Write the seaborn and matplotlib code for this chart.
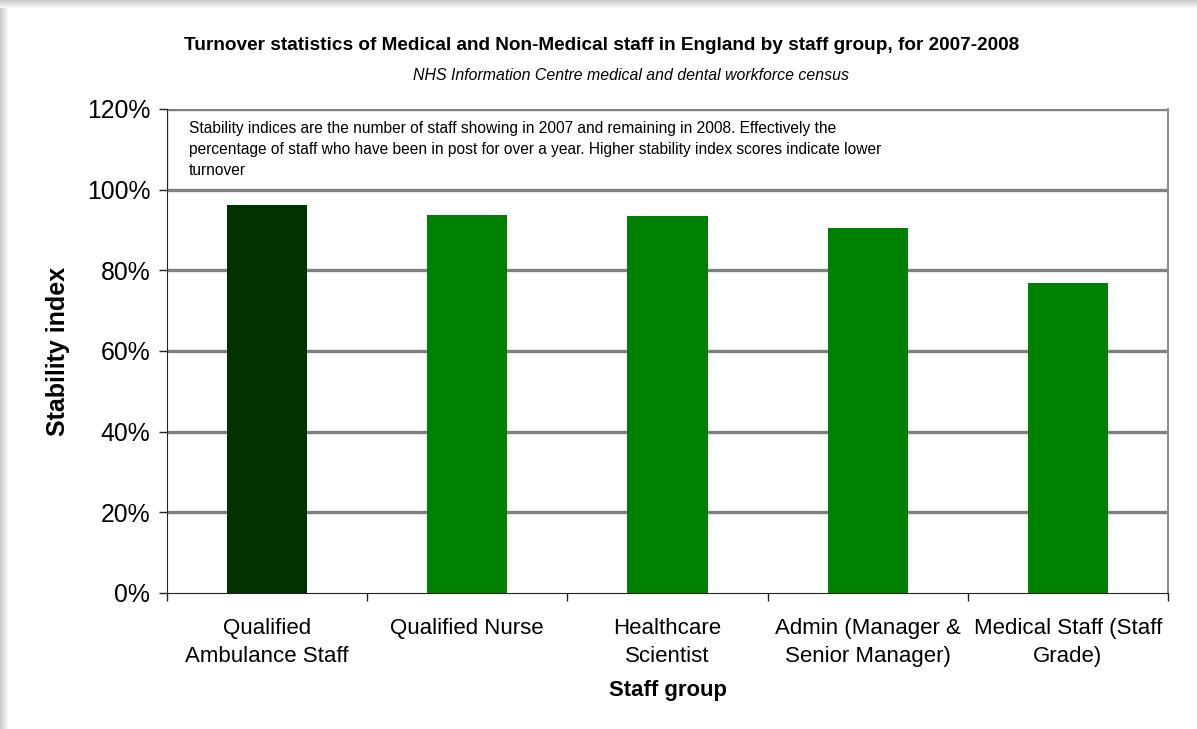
import numpy as np
import pandas as pd
import matplotlib.pyplot as plt
import matplotlib.patches as mpatches
import seaborn as sns

# ============================================
# DATA
# ============================================
groups = ["Qualified\nAmbulance Staff", "Qualified Nurse", "Healthcare\nScientist",
          "Admin (Manager &\nSenior Manager)", "Medical Staff (Staff\nGrade)"]
stability = [96.2, 93.7, 93.5, 90.6, 76.9]
bar_colors = ["#003300", "#008000", "#008000", "#008000", "#008000"]
y_ticks = [0, 20, 40, 60, 80, 100, 120]

df = pd.DataFrame({"group": groups, "stability": stability})

sns.set_style("white")
plt.rcParams["font.family"] = ["Liberation Sans", "DejaVu Sans"]
plt.rcParams["text.color"] = "black"
plt.rcParams["axes.labelcolor"] = "black"
plt.rcParams["xtick.color"] = "black"
plt.rcParams["ytick.color"] = "black"

fig = plt.figure(figsize=(11.97, 7.29), dpi=100)
ax = fig.add_axes([0.1395, 0.1866, 0.8363, 0.6639])

# shadow on top / left edge of the chart frame
for i in range(8):
    g = 0.80 + i * 0.025
    fig.patches.append(mpatches.Rectangle((0, 1 - (i + 1) / 729), 1, 1 / 729, transform=fig.transFigure,
                                          facecolor=(g, g, g), edgecolor="none", zorder=0))
    fig.patches.append(mpatches.Rectangle((i / 1197, 0), 1 / 1197, 1 - 8 / 729, transform=fig.transFigure,
                                          facecolor=(g, g, g), edgecolor="none", zorder=0))

sns.barplot(data=df, x="group", y="stability", hue="group", palette=bar_colors,
            legend=False, width=0.4, saturation=1, linewidth=0, ax=ax, zorder=3)

ax.set_ylim(0, 120)
ax.set_xlim(-0.5, 4.5)
ax.set_yticks(y_ticks)
ax.set_yticklabels([f"{t}%" for t in y_ticks], fontsize=17.8)
ax.set_xticks(range(len(groups)))
ax.set_xticklabels(groups, fontsize=16, linespacing=1.45)
ax.set_xticks(np.arange(-0.5, 5, 1), minor=True)
ax.tick_params(axis="x", which="major", bottom=True, length=0, pad=18)
ax.tick_params(axis="x", which="minor", bottom=True, length=6, width=1, color="#222222", direction="out")
ax.tick_params(axis="y", left=True, length=6, width=1, color="#222222", direction="out", pad=6)

for t in y_ticks[1:]:
    ax.axhline(t, color="#808080", linewidth=2.4, zorder=2)

# note box between 100% and 120%
ax.add_patch(mpatches.Rectangle((-0.5, 100), 5, 20, facecolor="white", edgecolor="#909090",
                                linewidth=1, zorder=1))
ax.text(0.022, 0.975,
        "Stability indices are the number of staff showing in 2007 and remaining in 2008. Effectively the\n"
        "percentage of staff who have been in post for over a year. Higher stability index scores indicate lower\n"
        "turnover",
        transform=ax.transAxes, fontsize=11.2, va="top", ha="left", linespacing=1.48, zorder=4)

ax.spines["top"].set_visible(False)
ax.spines["left"].set_color("#222222")
ax.spines["bottom"].set_color("#222222")
ax.spines["right"].set_color("#909090")
ax.spines["right"].set_linewidth(1.5)

ax.set_xlabel("Staff group", fontsize=15.9, fontweight="bold", labelpad=9)
ax.set_ylabel("Stability index", fontsize=18, fontweight="bold", labelpad=12)

fig.text(0.503, 0.938, "Turnover statistics of Medical and Non-Medical staff in England by staff group, for 2007-2008",
         ha="center", va="center", fontsize=13.7, fontweight="bold")
fig.text(0.527, 0.897, "NHS Information Centre medical and dental workforce census",
         ha="center", va="center", fontsize=11.4, style="italic")

plt.savefig("out.png", dpi=100)
